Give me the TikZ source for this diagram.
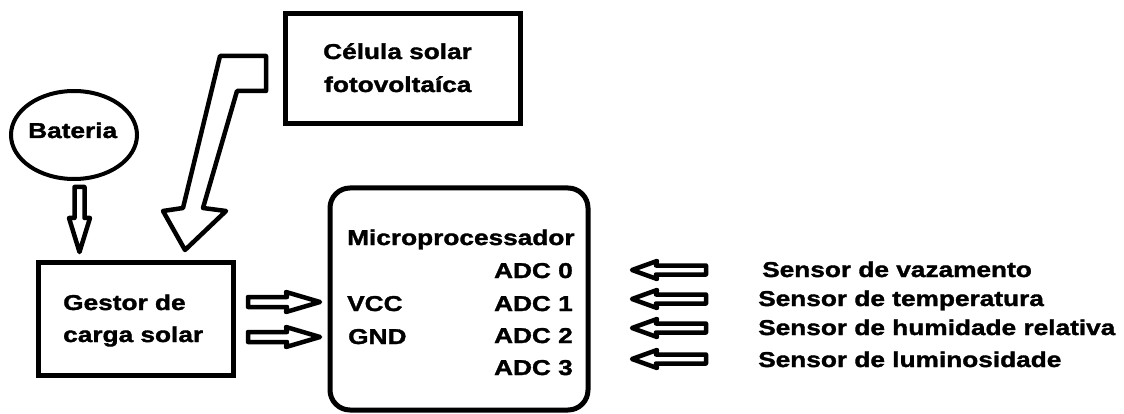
\documentclass[tikz,border=0pt]{standalone}
\usepackage{fontspec}
\newfontfamily\lab[FakeStretch=1.22,FakeBold=1.6]{Liberation Sans Bold}
\usetikzlibrary{shapes.geometric}
\tikzset{
  lbl/.style={inner sep=0pt,font=\lab\fontsize{21.5}{24}\selectfont},
  box/.style={draw=black,line width=5pt},
  harrow/.style={draw=black,line width=4.5pt,fill=white,line join=round},
}
\begin{document}
\begin{tikzpicture}[x=1pt,y=-1pt]
\useasboundingbox[fill=white] (0,0) rectangle (1124,414);
% boxes
\draw[box] (285,14) rectangle (520,124);
\draw[box] (38,262) rectangle (233,375);
\draw[box,rounded corners=20pt] (330,188) rectangle (588,410);
\draw[draw=black,line width=4pt] (74,135) ellipse [x radius=63, y radius=44];
\coordinate (cell) at (285,70);
\coordinate (bat) at (74,179);
\coordinate (gest) at (135,262);
\coordinate (mcu) at (330,300);
% texts
\node[lbl,anchor=base west] (cel1) at (323,59) {Célula solar};
\node[lbl,anchor=base west] (cel2) at (324,92) {fotovoltaíca};
\node[lbl,anchor=base west] (batt) at (28,138) {Bateria};
\node[lbl,anchor=base west] (g1) at (63,310) {Gestor de};
\node[lbl,anchor=base west] (g2) at (63,342) {carga solar};
\node[lbl,anchor=base west] (micro) at (347,245) {Microprocessador};
\node[lbl,anchor=base east] (adc0) at (573,278) {ADC 0};
\node[lbl,anchor=base east] (adc1) at (573,311) {ADC 1};
\node[lbl,anchor=base east] (adc2) at (573,343) {ADC 2};
\node[lbl,anchor=base east] (adc3) at (573,375) {ADC 3};
\node[lbl,anchor=base west] (vcc) at (347,311) {VCC};
\node[lbl,anchor=base west] (gnd) at (348,344) {GND};
\node[lbl,anchor=base west] (s0) at (762,277) {Sensor de vazamento};
\node[lbl,anchor=base west] (s1) at (758,306) {Sensor de temperatura};
\node[lbl,anchor=base west] (s2) at (758,335) {Sensor de humidade relativa};
\node[lbl,anchor=base west] (s3) at (758,367) {Sensor de luminosidade};
% big arrow from solar cell
\draw[harrow] (220,56) -- (266,56) -- (266,91) -- (237,91) -- (203,208) -- (226,211)
  -- (185,250) -- (163,211) -- (183,208) -- cycle;
% battery arrow
\draw[harrow] (74.5,187) -- (84.5,187) -- (84.5,218) -- (90,218) -- (79.5,252)
  -- (69,218) -- (74.5,218) -- cycle;
% VCC / GND arrows
\foreach \c in {302,337}{
  \draw[harrow] (248,\c-5) -- (287,\c-5) -- (286,\c-10) -- (320,\c) -- (286,\c+10)
    -- (287,\c+5) -- (248,\c+5) -- cycle;
}
% sensor arrows
\foreach \c in {270,299,328,359}{
  \draw[harrow] (706,\c-4.5) -- (656,\c-4.5) -- (657,\c-9) -- (632,\c) -- (657,\c+9)
    -- (656,\c+4.5) -- (706,\c+4.5) -- cycle;
}
\end{tikzpicture}
\end{document}
